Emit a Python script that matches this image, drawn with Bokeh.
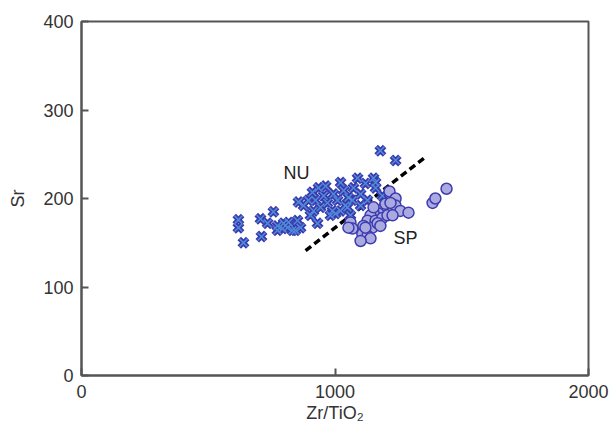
from bokeh.plotting import figure
from bokeh.models import FixedTicker, Range1d, Label
from bokeh.embed import file_html
from bokeh.resources import INLINE

# NU samples (crosses)
nu_x = [619, 619, 639, 706, 710, 757, 773, 793, 813, 832, 852, 864, 856, 844, 797,
        915, 931, 911, 935, 955, 970, 990, 994, 1010, 1022, 1034, 1053, 1049, 1073,
        1089, 1101, 1120, 1128, 1152, 1160, 1187, 1179, 1239, 982, 943, 1002, 1069,
        1101, 895, 734, 773, 817, 876, 903, 963, 1041, 1061, 923, 1022, 1160]
nu_y = [176, 167, 150, 177, 157, 185, 169, 166, 167, 164, 175, 167, 196, 164, 172,
        186, 172, 207, 212, 203, 195, 186, 205, 198, 218, 209, 201, 190, 212,
        223, 205, 217, 198, 223, 212, 203, 254, 243, 181, 190, 183, 198,
        192, 198, 172, 164, 173, 192, 181, 214, 192, 181, 198, 186, 218]

# SP samples (circles)
sp_x = [1215, 1239, 1239, 1258, 1290, 1187, 1172, 1152, 1140, 1128, 1160, 1187, 1207,
        1227, 1061, 1069, 1112, 1148, 1168, 1179, 1108, 1128, 1140, 1101, 1385, 1396,
        1440, 1152, 1199, 1219, 1053, 1120]
sp_y = [208, 200, 192, 186, 184, 188, 183, 184, 181, 175, 175, 178, 181,
        181, 173, 166, 169, 167, 172, 169, 160, 158, 155, 152, 195, 200,
        211, 190, 194, 195, 167, 167]

# discrimination line
line_x = [884, 1353]
line_y = [141, 246]

x_ticks = [0, 1000, 2000]
y_ticks = [0, 100, 200, 300, 400]

p = figure(width=613, height=427, output_backend="svg", toolbar_location=None,
           x_range=Range1d(0, 2000), y_range=Range1d(0, 400),
           min_border_left=81, min_border_right=25, min_border_top=21,
           min_border_bottom=52)

p.xgrid.visible = False
p.ygrid.visible = False
p.outline_line_color = "#555555"
p.outline_line_width = 2
p.background_fill_color = "white"
p.border_fill_color = "white"

for ax in (p.xaxis[0], p.yaxis[0]):
    ax.axis_line_color = "#555555"
    ax.axis_line_width = 2
    ax.major_tick_in = 7
    ax.major_tick_out = 0
    ax.major_tick_line_color = "#555555"
    ax.major_tick_line_width = 2
    ax.minor_tick_line_color = None
    ax.major_label_text_font = "Liberation Sans"
    ax.major_label_text_font_size = "18px"
    ax.major_label_text_color = "#333333"
    ax.axis_label_text_font = "Liberation Sans"
    ax.axis_label_text_font_size = "18px"
    ax.axis_label_text_font_style = "normal"
    ax.axis_label_text_color = "#333333"

p.xaxis.ticker = FixedTicker(ticks=x_ticks)
p.yaxis.ticker = FixedTicker(ticks=y_ticks)
p.xaxis.axis_label = "Zr/TiO₂"
p.yaxis.axis_label = "Sr"
p.xaxis.major_label_standoff = 9
p.yaxis.major_label_standoff = 8
p.xaxis.axis_label_standoff = 2
p.yaxis.axis_label_standoff = 12

p.line(line_x, line_y, line_color="black", line_width=3.5, line_dash="7 4")

p.scatter(nu_x, nu_y, marker="x", size=12, line_width=5, line_color="#3a3aae")
p.scatter(nu_x, nu_y, marker="x", size=11, line_width=1.5, line_color="#4f8ad8")

p.scatter(sp_x, sp_y, marker="circle", size=11, fill_color="#aaaae0",
          line_color="#3c3cb0", line_width=1.5)

p.add_layout(Label(x=848, y=229, text="NU", text_align="center", text_baseline="middle",
                   text_font="Liberation Sans", text_font_size="18px", text_color="#222222"))
p.add_layout(Label(x=1278, y=155, text="SP", text_align="center", text_baseline="middle",
                   text_font="Liberation Sans", text_font_size="18px", text_color="#222222"))

open("out.html", "w").write(file_html(p, INLINE))
